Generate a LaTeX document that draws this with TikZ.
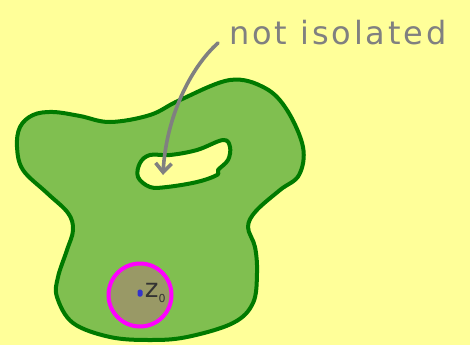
\documentclass[tikz,border=0pt]{standalone}
\usepackage{fontspec}
\setsansfont{DejaVu Sans}
\newfontfamily\handfont[LetterSpace=9]{DejaVu Sans}
\usepackage{xcolor}
\usetikzlibrary{arrows.meta,positioning}

\definecolor{paper}{HTML}{FFFF99}
\definecolor{leaf}{HTML}{80BF50}
\definecolor{darkleaf}{HTML}{007A00}
\definecolor{pencil}{HTML}{808080}
\definecolor{disk}{HTML}{999966}
\definecolor{ring}{HTML}{FF00FF}
\definecolor{ink}{HTML}{333333}
\definecolor{dotblue}{HTML}{3333CC}

\begin{document}
\begin{tikzpicture}[
  x=1pt, y=-1pt,
  font=\sffamily,
  region/.style={draw=darkleaf, line width=4pt, fill=leaf, even odd rule, line join=round},
  nbhd/.style={circle, draw=ring, line width=4pt, fill=disk, minimum size=63pt, inner sep=0pt},
  pointer/.style={-{Straight Barb[length=9pt, width=16pt, line width=3.6pt]}, line width=3.6pt, draw=pencil, line cap=round},
  note/.style={text=pencil, font=\handfont\fontsize{32}{32}\selectfont, inner sep=0pt}
]
\fill[paper] (0,0) rectangle (470,345);
\useasboundingbox (0,0) rectangle (470,345);

% the open set, with the hole
\draw[region] plot[smooth cycle, tension=0.6] coordinates {
  (33,115) (53,112) (80,116) (110,122) (150,115) (180,100) (230,80) (265,88)
  (287,110) (303,147) (299,175) (280,190) (256,211) (248,227) (255,247)
  (257,273) (253,303) (233,323) (187,337) (150,340) (110,337) (73,323)
  (57,297) (58,277) (67,250) (73,230) (68,213) (47,193) (23,170) (17,147) (20,127)}
  plot[smooth cycle, tension=0.6] coordinates {
  (140,163) (150,155) (170,155) (197,150) (223,140) (230,147) (228,160)
  (218,170) (217,175) (197,182) (167,187) (150,187) (138,177)};

% disk around z0
\node[nbhd] (ball) at (140,295) {};
\node[fill=dotblue, inner sep=0pt, minimum width=5pt, minimum height=7pt, rounded corners=1.5pt] (z0) at (140,293) {};
\node[right=2pt of z0, text=ink, font=\sffamily\fontsize{26}{26}\selectfont, inner sep=0pt] (zlabel) {z\raisebox{-5pt}{\fontsize{11}{11}\selectfont 0}};

% label and pointer
\node[note, anchor=base west] (isolated) at (229,45) {not isolated};
\coordinate (tail) at (218,43);
\coordinate (hole) at (163,175);
\draw[pointer] (tail) .. controls (190,68) and (166,118) .. (hole);
\end{tikzpicture}
\end{document}
